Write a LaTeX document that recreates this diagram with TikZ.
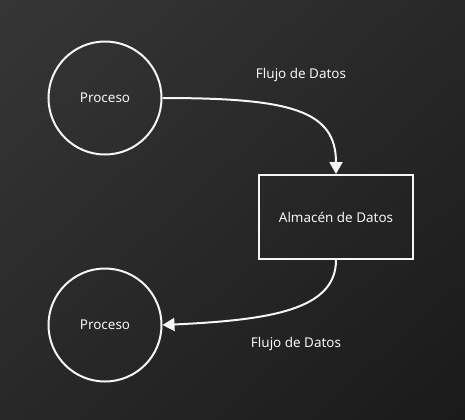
\documentclass[tikz,border=0pt]{standalone}
\usepackage{fontspec}
\setmainfont{Noto Sans}
\definecolor{bgtop}{RGB}{54,54,54}
\definecolor{bgmid}{RGB}{40,40,40}
\definecolor{bgbottom}{RGB}{26,26,26}
\definecolor{dfdwhite}{RGB}{245,245,245}
\usetikzlibrary{arrows.meta}
\usetikzlibrary{shadings}
\tikzset{
  process/.style={draw=dfdwhite, line width=2bp, circle, minimum size=113bp, inner sep=0pt, text=dfdwhite, font=\fontsize{13.5}{16}\selectfont},
  datastore/.style={draw=dfdwhite, line width=2bp, rectangle, minimum width=154bp, minimum height=84bp, inner sep=0pt, text=dfdwhite, font=\fontsize{13.5}{16}\selectfont},
  flowlabel/.style={text=dfdwhite, font=\fontsize{13.5}{16}\selectfont},
  flow/.style={draw=dfdwhite, line width=2bp, -{Triangle[width=13bp,length=12bp]}}
}

\begin{document}
\begin{tikzpicture}[x=1bp, y=-1bp]
  \useasboundingbox (0,0) rectangle (465,419);
  \shade[upper left=bgtop, upper right=bgmid, lower left=bgmid, lower right=bgbottom] (0,0) rectangle (465,419);

  \node[process] (proc1) at (105,98) {Proceso};
  \node[process] (proc2) at (105,325) {Proceso};
  \node[datastore] (store) at (336,217) {Almacén de Datos};

  \draw[flow] (proc1.east) .. controls (290,98) and (336,110) .. (store.north);
  \draw[flow] (store.south) .. controls (336,310) and (270,320) .. (proc2.east);

  \node[flowlabel] (label1) at (301,75) {Flujo de Datos};
  \node[flowlabel] (label2) at (296,344) {Flujo de Datos};
\end{tikzpicture}
\end{document}
